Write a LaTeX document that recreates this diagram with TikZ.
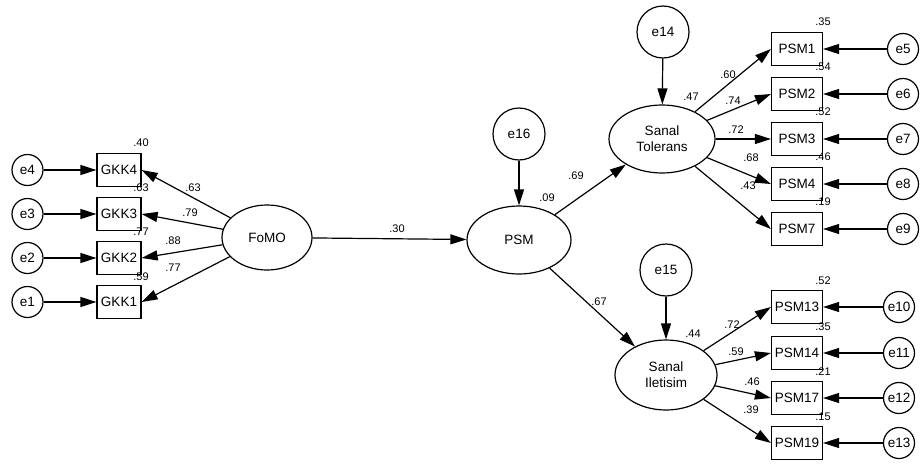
\documentclass[tikz,border=0pt]{standalone}
\usepackage{fontspec}
\setmainfont{Liberation Sans}
\usetikzlibrary{shapes.geometric,arrows.meta}
\begin{document}
\begin{tikzpicture}[x=1pt,y=-1pt,
  every node/.style={font=\fontsize{13.5}{16}\selectfont},
  errc/.style={circle,draw,line width=1.2pt,minimum size=31pt,inner sep=0pt},
  bigerr/.style={circle,draw,line width=1.2pt,minimum size=52pt,inner sep=0pt},
  obs/.style={rectangle,draw,line width=1.2pt,minimum width=44pt,minimum height=33pt,inner sep=0pt},
  obsw/.style={obs,minimum width=51pt},
  lat/.style={ellipse,draw,line width=1.2pt,minimum width=104pt,minimum height=68pt,inner sep=0pt,align=center},
  lbl/.style={font=\fontsize{11}{12}\selectfont,inner sep=0pt},
  pth/.style={line width=1.2pt,-{Triangle[length=16pt,width=10pt]}}
]
\useasboundingbox (0,0) rectangle (920,463);

% left side
\node[lat,minimum width=90pt,minimum height=65pt] (fomo) at (267,237.5) {FoMO};
\node[obs] (gkk4) at (119,170) {GKK4};
\node[obs] (gkk3) at (119,214) {GKK3};
\node[obs] (gkk2) at (119,258) {GKK2};
\node[obs] (gkk1) at (119,302) {GKK1};
\node[errc] (e4) at (27.5,170) {e4};
\node[errc] (e3) at (27.5,214) {e3};
\node[errc] (e2) at (27.5,258) {e2};
\node[errc] (e1) at (27.5,302) {e1};
\foreach \i in {1,2,3,4} \draw[pth] (e\i) -- (gkk\i);
\foreach \i in {1,2,3,4} \draw[pth] (fomo) -- (gkk\i.east);
\node[lbl] (r4) at (141,143) {.40};
\node[lbl] (r3) at (141,188) {.63};
\node[lbl] (r2) at (141,232) {.77};
\node[lbl] (r1) at (141,277) {.59};
\node[lbl] (l4) at (193,188) {.63};
\node[lbl] (l3) at (190,213) {.79};
\node[lbl] (l2) at (173,241) {.88};
\node[lbl] (l1) at (173,268) {.77};

% middle
\node[lat] (psm) at (519,240) {PSM};
\node[bigerr] (e16) at (519,134) {e16};
\draw[pth] (e16) -- (psm);
\draw[pth] (fomo) -- (psm);
\node[lbl] (rpsm) at (547,198) {.09};
\node[lbl] (lfp) at (397,229) {.30};

% Sanal Tolerans
\node[lat,minimum width=106pt] (st) at (662,139) {Sanal\\Tolerans};
\node[bigerr] (e14) at (663,32) {e14};
\draw[pth] (e14) -- (st);
\draw[pth] (psm) -- (st);
\node[lbl] (rst) at (691,97) {.47};
\node[lbl] (lst) at (576,176) {.69};
\foreach \n/\y/\e/\r in {1/49/5/.35,2/94/6/.54,3/139/7/.52,4/184/8/.46,7/229/9/.19}{
  \node[obsw] (psm\n) at (797,\y) {PSM\n};
  \node[errc] (e\e) at (903,\y) {e\e};
  \draw[pth] (e\e) -- (psm\n.east);
  \draw[pth] (st) -- (psm\n.west);
  \node[lbl] (rp\n) at (823,\y-27) {\r};
}
\node[lbl] (lp1) at (728,75) {.60};
\node[lbl] (lp2) at (733,101) {.74};
\node[lbl] (lp3) at (736,130) {.72};
\node[lbl] (lp4) at (751,158) {.68};
\node[lbl] (lp7) at (748,186) {.43};

% Sanal Iletisim
\node[lat,minimum width=102pt,minimum height=70pt] (si) at (666,375) {Sanal\\Iletisim};
\node[bigerr] (e15) at (666,270) {e15};
\draw[pth] (e15) -- (si);
\draw[pth] (psm) -- (si);
\node[lbl] (rsi) at (693,334) {.44};
\node[lbl] (lsi) at (599,302) {.67};
\foreach \n/\y/\e/\r in {13/307/10/.52,14/353/11/.35,17/398/12/.21,19/443/13/.15}{
  \node[obsw] (psm\n) at (797,\y) {PSM\n};
  \node[errc] (e\e) at (899,\y) {e\e};
  \draw[pth] (e\e) -- (psm\n.east);
  \draw[pth] (si) -- (psm\n.west);
  \node[lbl] (rp\n) at (823,\y-26) {\r};
}
\node[lbl] (lp13) at (732,325) {.72};
\node[lbl] (lp14) at (736,352) {.59};
\node[lbl] (lp17) at (752,382) {.46};
\node[lbl] (lp19) at (751,410) {.39};
\end{tikzpicture}
\end{document}
